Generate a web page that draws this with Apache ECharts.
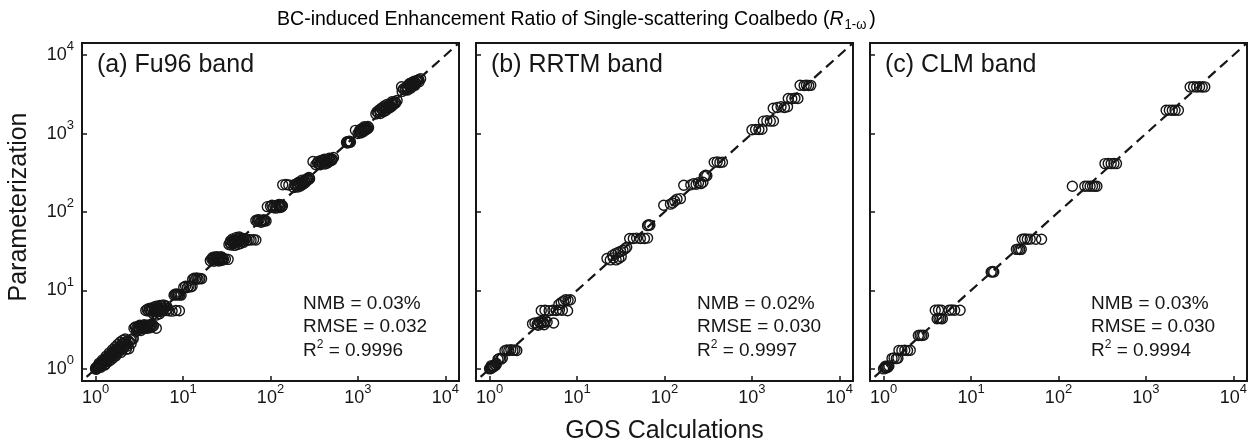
<!DOCTYPE html>
<html>
<head>
<meta charset="utf-8">
<script src="https://cdn.jsdelivr.net/npm/echarts@6/dist/echarts.min.js"></script>
<style>
  html, body { margin: 0; padding: 0; background: #ffffff; }
  #chart { width: 1255px; height: 445px; }
</style>
</head>
<body>
<div id="chart"></div>
<script>
// Panel labels and fit statistics
const panelNames = ['(a) Fu96 band', '(b) RRTM band', '(c) CLM band'];
const nmbValues = ['0.03%', '0.02%', '0.03%'];
const rmseValues = ['0.032', '0.030', '0.030'];
const r2Values = ['0.9996', '0.9997', '0.9994'];

// Decade tick values shared by every log axis
const decadeTicks = [1, 10, 100, 1000, 10000];
const axisMin = 0.7;
const axisMax = 14290;
// End values of the 1:1 reference line
const oneToOneEnds = [0.79, 14290];

// [GOS calculation, parameterization] pairs, Fu96 bands
const fu96Points = [
  [1.00,1.00],[1.01,1.03],[1.02,0.99],[1.03,1.05],[1.05,1.02],[1.06,1.08],[1.08,1.04],[1.09,1.11],
  [1.11,1.07],[1.12,1.14],[1.14,1.10],[1.16,1.18],[1.18,1.13],[1.20,1.22],[1.22,1.17],[1.24,1.27],
  [1.26,1.21],[1.29,1.32],[1.31,1.25],[1.34,1.37],[1.36,1.30],[1.39,1.43],[1.42,1.35],[1.45,1.49],
  [1.48,1.41],[1.51,1.56],[1.54,1.47],[1.58,1.63],[1.61,1.53],[1.65,1.70],[1.69,1.59],[1.73,1.78],
  [1.77,1.66],[1.81,1.86],[1.86,1.74],[1.90,1.95],[1.95,1.82],[2.00,2.04],[2.05,1.90],[2.11,2.14],
  [2.17,1.98],[2.23,2.22],[2.29,2.06],[2.36,2.30],[2.43,2.20],[2.52,2.34],[2.62,2.40],[2.70,2.43],
  [2.40,1.80],[2.25,1.78],[1.95,1.62],[1.70,1.46],[1.50,1.31],[1.30,1.16],
  [1.10,1.18],[1.20,1.30],[1.32,1.45],[1.44,1.60],[1.56,1.75],[1.68,1.90],[1.80,2.05],[1.92,2.20],
  [2.05,2.32],[2.18,2.40],[1.15,1.05],[1.28,1.12],[1.42,1.25],[1.58,1.38],[1.75,1.55],[1.92,1.70],
  [2.10,1.85],[2.30,1.95],[2.55,2.10],
  [2.75,3.30],[2.85,3.42],[2.95,3.28],[3.05,3.45],[3.15,3.32],[3.25,3.50],[3.35,3.36],[3.45,3.55],
  [3.55,3.38],[3.65,3.52],[3.75,3.40],[3.85,3.58],[3.95,3.44],[4.05,3.62],[4.15,3.48],[4.30,3.60],
  [4.45,3.45],[4.60,3.55],[4.95,3.30],[3.20,3.60],[3.70,3.28],[2.95,3.02],[3.30,3.08],
  [3.10,3.20],[3.40,3.25],[3.60,3.65],[3.90,3.30],[4.20,3.35],[4.40,3.68],
  [3.75,5.55],[3.90,5.70],[4.05,5.45],[4.20,5.65],[4.35,5.50],[4.50,5.75],[4.65,5.40],[4.80,5.60],
  [4.95,5.30],[5.10,5.55],[5.25,5.35],[5.40,5.70],[5.55,5.45],[5.70,5.60],[5.85,5.50],[6.00,5.65],
  [4.70,6.15],[4.95,6.30],[5.20,6.20],[5.45,6.45],[5.70,6.35],[5.95,6.55],[6.20,6.40],[6.50,6.30],
  [6.40,5.55],[6.90,5.50],[7.50,5.45],[8.30,5.55],[9.10,5.50],[4.60,5.00],[5.00,4.85],[5.40,5.05],
  [4.10,5.90],[4.40,6.00],[5.30,5.95],[5.80,5.90],[6.20,6.00],[6.70,5.85],
  [7.90,8.70],[8.10,8.95],[8.30,8.80],[8.50,9.00],[8.70,8.75],[8.90,8.90],[9.20,8.80],[9.50,8.70],
  [10.2,11.0],[10.7,11.3],[11.2,10.9],[11.7,11.4],[12.2,11.1],[12.7,11.3],[12.9,13.9],[13.4,14.3],
  [13.9,13.9],[14.4,14.4],[14.9,14.0],[15.6,14.2],[16.3,14.1],
  [20.5,24.0],[21.3,25.2],[22.0,24.4],[22.7,25.8],[23.4,24.6],[24.1,26.0],[24.8,24.8],[25.5,25.9],
  [26.2,24.7],[26.9,26.1],[27.6,25.0],[28.3,25.8],[29.0,24.9],[30.5,25.2],[32.8,24.9],[23.0,26.8],
  [26.0,23.8],[21.8,26.3],[24.5,27.0],[27.2,26.9],[22.5,23.5],[25.2,23.9],[28.0,24.2],
  [33.5,38.5],[34.5,40.5],[35.5,38.0],[36.5,42.0],[37.5,39.5],[38.5,43.5],[39.5,40.5],[40.5,44.5],
  [41.5,41.5],[42.5,45.5],[43.5,42.5],[44.5,46.5],[45.5,43.5],[46.5,45.0],[47.5,42.0],[48.5,46.0],
  [50.0,44.0],[52.0,45.5],[54.0,43.5],[57.0,44.5],[60.0,44.0],[64.0,44.5],[68.0,44.0],[37.0,45.5],
  [42.0,38.5],[35.0,43.0],[39.0,37.5],[41.0,47.5],[45.0,39.5],[49.0,41.0],[44.0,48.0],[38.0,41.5],
  [68,78],[71,76],[74,79],[77,77],[80,78],[83,76],[86,78],[89,77],[72,80],[78,74],[84,80],
  [92,117],[100,118],[107,114],[112,120],[117,116],[122,122],[127,118],[132,124],[137,120],[128,114],
  [104,122],[115,112],[125,125],[134,116],
  [138,222],[150,224],[162,221],[185,205],[195,215],[205,222],[215,230],[225,238],[235,245],[245,252],
  [255,260],[265,268],[275,275],[200,230],[240,230],[260,250],[220,215],[190,225],[210,240],
  [230,222],[250,238],[270,258],[280,265],[230,255],[205,208],
  [306,440],[330,400],[345,420],[360,410],[375,430],[390,420],[405,445],[420,435],[435,455],[450,440],
  [465,465],[480,450],[495,480],[510,470],[525,495],[440,420],[400,460],[350,440],[380,455],
  [420,410],[460,430],[500,455],[470,485],[415,470],[370,400],
  [740,770],[752,790],[766,774],[780,792],[794,776],[808,788],[820,778],[760,760],[800,800],
  [935,1100],[1000,1000],[1030,1040],[1060,1060],[1090,1090],[1120,1110],[1150,1140],[1180,1160],
  [1210,1190],[1240,1200],[1280,1150],[1320,1190],[1100,1150],[1200,1100],[1050,1110],[1150,1060],
  [1250,1130],[1080,1020],[1300,1230],[1180,1220],
  [1600,1780],[1700,1850],[1800,1950],[1900,2000],[2000,2100],[2100,2150],[2200,2250],[2300,2300],
  [2400,2400],[2500,2450],[2650,2550],[2800,2650],[1750,2000],[2100,2000],[2300,2150],[2000,2250],
  [2500,2300],[1650,1900],[1850,2100],[1950,1900],[2150,2350],[2250,2100],[2450,2550],[2600,2400],
  [2400,2200],[2700,2450],[1800,1800],[2050,1950],
  [3150,3950],[3200,3450],[3450,3600],[3700,3800],[3900,4000],[4100,4150],[4300,4300],[4500,4500],
  [4700,4650],[4950,4850],[5200,5000],[3600,3950],[4200,4000],[4400,4650],[3300,3700],[3500,3800],
  [3800,4200],[4000,3800],[4300,4550],[4600,4350],[4800,4800],[5000,4600],[3900,4350],[4500,4150],
  [3700,3600],[4100,4450]
];

// [GOS calculation, parameterization] pairs, RRTM bands
const rrtmPoints = [
  [1.00,1.00],[1.02,1.03],[1.04,1.01],[1.06,1.06],[1.08,1.04],[1.10,1.09],[1.12,1.07],[1.15,1.12],
  [1.18,1.11],[1.20,1.17],[1.05,1.10],
  [1.25,1.32],[1.30,1.36],[1.35,1.33],[1.40,1.37],
  [1.50,1.70],[1.58,1.74],[1.66,1.71],[1.75,1.75],[1.85,1.72],[1.95,1.74],[2.05,1.71],
  [3.10,3.75],[3.30,3.85],[3.50,3.70],[3.70,3.95],[3.85,3.80],[4.00,4.05],[4.15,3.90],[4.35,4.10],
  [4.55,3.95],[3.60,3.60],[4.20,3.65],[5.40,3.85],
  [3.90,5.55],[4.30,5.60],[4.80,5.50],[5.30,5.60],[5.80,5.55],[6.30,5.65],[6.80,5.60],[7.80,5.50],
  [6.20,6.60],[6.60,7.00],[7.00,7.30],[7.40,7.60],[7.90,7.50],[8.40,7.60],
  [22.0,25.5],[24.0,24.5],[26.0,26.0],[28.0,24.5],[30.0,25.5],[25.5,28.0],[27.5,29.5],[29.5,30.5],
  [31.5,31.5],[33.5,32.5],[35.5,34.0],[37.0,35.5],[32.0,27.0],
  [40,46],[44,46],[48,46.5],[53,46],[59,46],[64,46.5],
  [64,67],[66,69],[68,68],
  [98,122],[117,126],[124,130],[131,138],[139,146],[152,148],
  [166,219],[200,222],[215,230],[230,226],[245,236],[260,230],[275,240],
  [285,285],[295,294],[305,290],
  [370,430],[400,435],[430,428],[460,432],
  [1000,1120],[1100,1130],[1200,1125],[1300,1135],
  [1350,1440],[1480,1460],[1620,1440],[1760,1450],
  [1750,2100],[1950,2150],[2150,2200],[2350,2150],[2550,2200],
  [2600,2800],[2850,2780],[3100,2820],[3350,2800],
  [3550,4130],[3950,4100],[4200,4150],[4450,4100],[4700,4120]
];

// [GOS calculation, parameterization] pairs, CLM bands
const clmPoints = [
  [1.00,1.00],[1.03,1.04],[1.06,1.02],[1.09,1.07],[1.12,1.05],[1.15,1.09],[1.05,1.08],
  [1.25,1.36],[1.32,1.38],[1.40,1.35],[1.46,1.37],
  [1.50,1.72],[1.62,1.72],[1.75,1.73],[1.88,1.71],[2.02,1.73],
  [2.50,2.66],[2.62,2.69],[2.74,2.66],[2.86,2.68],
  [4.10,4.35],[4.30,4.40],[4.50,4.37],[4.70,4.36],
  [3.90,5.60],[4.25,5.62],[4.60,5.60],[5.60,5.60],[6.00,5.62],[6.50,5.60],[7.50,5.60],
  [17.0,17.2],[17.6,17.4],[18.2,17.2],
  [33.0,33.4],[34.5,33.6],[36.0,33.3],[37.5,33.4],
  [38.5,45.0],[41.0,45.2],[44.0,45.0],[47.5,45.1],[55.0,45.0],[64.0,45.0],
  [144,213],
  [200,213],[215,214],[230,213],[245,214],[260,213],[275,213],
  [340,414],[370,416],[400,414],[430,415],[460,414],
  [1700,1980],[1850,1990],[2000,1980],[2150,1985],[2350,1980],
  [3200,3930],[3500,3950],[3800,3930],[4100,3950],[4400,3930],[4700,3940]
];

const panelPoints = [fu96Points, rrtmPoints, clmPoints];

// Layout and styling
const FONT = '"Liberation Sans", Arial, Helvetica, sans-serif';
const INK = '#161616';
const gridLefts = [82, 476, 870];
const gridTop = 43;
const gridWidth = 377;
const gridHeight = 338;

const powerLabel = v => '{b|10}{s|' + Math.round(Math.log10(v)) + '}';
const powerRich = {
  b: { fontSize: 18, fontFamily: FONT, color: INK, lineHeight: 30 },
  s: { fontSize: 13, fontFamily: FONT, color: INK, verticalAlign: 'top', lineHeight: 14 }
};

function logAxis(gridIndex, showLabels) {
  return {
    type: 'log',
    logBase: 10,
    gridIndex: gridIndex,
    min: axisMin,
    max: axisMax,
    axisLine: { show: false },
    axisTick: {
      show: true, inside: true, length: 5,
      customValues: decadeTicks,
      lineStyle: { color: INK, width: 1.5 }
    },
    minorTick: { show: false },
    splitLine: { show: false },
    axisLabel: {
      show: showLabels,
      customValues: decadeTicks,
      formatter: powerLabel,
      rich: powerRich
    }
  };
}

const grids = gridLefts.map(left => ({
  left: left, top: gridTop, width: gridWidth, height: gridHeight,
  show: true, borderColor: INK, borderWidth: 2, backgroundColor: 'transparent',
  containLabel: false, outerBoundsMode: 'none'
}));

const xAxes = gridLefts.map((_, i) => {
  const ax = logAxis(i, true);
  ax.axisLabel.margin = 2;
  if (i === 1) {
    ax.name = 'GOS Calculations';
    ax.nameLocation = 'middle';
    ax.nameGap = 38;
    ax.nameTextStyle = { fontSize: 25, fontFamily: FONT, color: INK };
  }
  return ax;
});

const yAxes = gridLefts.map((_, i) => {
  const ax = logAxis(i, i === 0);
  ax.axisLabel.margin = 8;
  if (i === 0) {
    ax.name = 'Parameterization';
    ax.nameLocation = 'middle';
    ax.nameGap = 50;
    ax.nameTextStyle = { fontSize: 25, fontFamily: FONT, color: INK, padding: [0, 0, 0, 10] };
  }
  return ax;
});

const series = [];
panelPoints.forEach((pts, i) => {
  series.push({
    type: 'scatter',
    xAxisIndex: i, yAxisIndex: i,
    data: pts,
    symbol: 'circle',
    symbolSize: 10,
    itemStyle: { color: 'rgba(0,0,0,0)', borderColor: INK, borderWidth: 1.4, opacity: 1 },
    silent: true,
    z: 2
  });
  series.push({
    type: 'line',
    xAxisIndex: i, yAxisIndex: i,
    data: [[oneToOneEnds[0], oneToOneEnds[0]], [oneToOneEnds[1], oneToOneEnds[1]]],
    symbol: 'none',
    lineStyle: { color: INK, width: 2.2, type: [10, 6] },
    silent: true,
    z: 3
  });
});

const graphics = [{
  type: 'text',
  x: 277, y: 19,
  scaleX: 0.93,
  style: {
    text: '{n|BC-induced Enhancement Ratio of Single-scattering Coalbedo (}{i|R}{sub|1-ω}{n|)}',
    verticalAlign: 'middle',
    align: 'left',
    rich: {
      n: { fontSize: 21, fontFamily: FONT, color: INK, lineHeight: 28 },
      i: { fontSize: 21, fontFamily: FONT, fontStyle: 'italic', color: INK, lineHeight: 28 },
      sub: { fontSize: 14, fontFamily: FONT, color: INK, padding: [13, 3, 0, 1] }
    }
  }
}];

gridLefts.forEach((left, i) => {
  graphics.push({
    type: 'text',
    x: left + 15, y: 65,
    style: {
      text: panelNames[i],
      font: '25px ' + FONT,
      fill: INK,
      verticalAlign: 'middle',
      align: 'left'
    }
  });
  graphics.push({
    type: 'text',
    x: left + 221, y: 292,
    style: {
      text: 'NMB = ' + nmbValues[i] + '\nRMSE = ' + rmseValues[i] + '\nR{sup|2} = ' + r2Values[i],
      font: '19px ' + FONT,
      fill: INK,
      lineHeight: 23.5,
      verticalAlign: 'top',
      align: 'left',
      rich: {
        sup: { fontSize: 12, fontFamily: FONT, fill: INK, verticalAlign: 'top', lineHeight: 12 }
      }
    }
  });
});

const chart = echarts.init(document.getElementById('chart'), null, { renderer: 'canvas' });
chart.setOption({
  animation: false,
  backgroundColor: '#ffffff',
  grid: grids,
  xAxis: xAxes,
  yAxis: yAxes,
  series: series,
  graphic: graphics
});
</script>
</body>
</html>
